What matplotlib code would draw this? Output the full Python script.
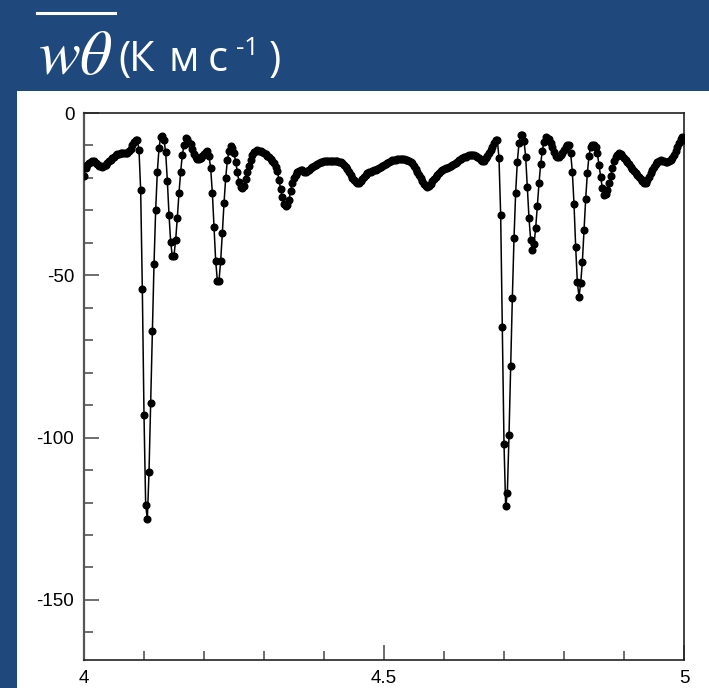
import numpy as np
import matplotlib
matplotlib.use("Agg")
import matplotlib.pyplot as plt
from matplotlib.patches import Rectangle
from matplotlib.lines import Line2D
from matplotlib.ticker import MultipleLocator

plt.rcParams['axes.unicode_minus'] = False

# flux samples, one every 4 minutes (1/360 of a unit) from 4 to 5
t_start, t_end = 4.0, 5.0
flux = [
    -19.3, -17.0, -16.0, -15.3, -15.0, -14.8, -14.9, -15.3, -15.8, -16.2,
    -16.4, -16.5, -16.3, -15.9, -15.4, -14.9, -14.4, -13.9, -13.4, -13.0,
    -12.7, -12.5, -12.4, -12.4, -12.4, -12.4, -12.2, -11.7, -11.0, -10.0,
    -8.9, -8.3, -8.3, -11.4, -23.8, -54.3, -93.0, -120.7, -125.1, -110.7,
    -89.3, -67.0, -46.6, -30.0, -18.1, -10.9, -7.3, -7.1, -8.3, -12.1,
    -20.8, -31.3, -39.7, -44.2, -43.9, -39.1, -32.2, -24.6, -18.1, -12.9,
    -9.9, -7.8, -8.0, -9.1, -9.6, -11.0, -12.5, -13.6, -14.2, -14.3,
    -14.0, -13.3, -12.5, -11.9, -11.8, -13.2, -17.0, -24.5, -35.0, -45.5,
    -51.6, -51.6, -45.6, -37.0, -27.8, -20.1, -14.6, -11.6, -10.3, -10.9,
    -12.4, -15.0, -18.2, -21.2, -22.8, -23.0, -22.4, -20.2, -18.3, -16.3,
    -14.5, -12.9, -12.0, -11.6, -11.5, -11.6, -11.8, -12.1, -12.4, -12.7,
    -13.2, -13.7, -14.2, -14.7, -15.4, -16.5, -18.0, -20.5, -23.5, -26.0,
    -28.0, -28.7, -28.3, -26.8, -24.0, -21.5, -20.0, -19.0, -18.2, -17.8,
    -17.6, -17.7, -18.1, -18.3, -18.0, -17.5, -17.0, -16.6, -16.3, -16.0,
    -15.7, -15.4, -15.2, -15.0, -14.9, -14.8, -14.8, -14.8, -14.8, -14.8,
    -14.8, -14.8, -14.9, -15.0, -15.1, -15.4, -15.9, -16.5, -17.3, -18.2,
    -19.1, -19.9, -20.6, -21.2, -21.6, -21.6, -21.0, -20.2, -19.6, -19.0,
    -18.6, -18.3, -18.1, -17.9, -17.7, -17.5, -17.2, -16.9, -16.5, -16.2,
    -15.9, -15.6, -15.3, -15.0, -14.8, -14.6, -14.5, -14.4, -14.3, -14.3,
    -14.3, -14.3, -14.3, -14.4, -14.5, -14.7, -15.1, -15.5, -16.2, -17.1,
    -18.1, -19.2, -20.1, -21.1, -21.9, -22.4, -22.7, -22.5, -21.9, -21.1,
    -20.3, -19.6, -19.0, -18.5, -18.0, -17.6, -17.3, -17.0, -16.8, -16.5,
    -16.2, -15.9, -15.6, -15.3, -15.0, -14.6, -14.3, -14.0, -13.7, -13.4,
    -13.2, -13.0, -12.9, -12.9, -13.0, -13.3, -13.6, -14.0, -14.4, -14.8,
    -14.8, -14.0, -13.2, -12.4, -11.3, -10.4, -9.2, -8.4, -8.3, -14.0,
    -31.4, -66.0, -101.9, -121.2, -117.1, -99.3, -77.8, -57.1, -38.6, -24.5,
    -15.0, -9.3, -6.8, -6.8, -8.5, -13.5, -22.7, -32.4, -39.1, -42.2,
    -40.4, -35.5, -28.6, -21.7, -15.7, -11.6, -8.8, -7.5, -7.6, -8.1,
    -9.1, -10.6, -12.0, -13.2, -13.6, -13.5, -13.0, -12.4, -11.4, -10.4,
    -9.9, -9.9, -12.4, -18.1, -28.0, -41.2, -52.0, -56.6, -52.5, -46.0,
    -36.0, -26.6, -18.6, -13.2, -10.4, -9.9, -10.0, -10.6, -12.4, -16.0,
    -19.8, -23.2, -25.3, -24.9, -23.7, -21.7, -19.4, -17.0, -14.8, -13.6,
    -12.9, -12.4, -12.6, -13.2, -13.9, -14.5, -15.2, -15.8, -16.5, -17.2,
    -17.9, -18.6, -19.2, -19.8, -20.4, -21.0, -21.6, -21.5, -20.5, -19.6,
    -18.6, -17.6, -16.6, -15.8, -15.2, -14.7, -14.6, -14.7, -14.9, -15.0,
    -15.0, -14.8, -14.5, -13.8, -12.8, -11.7, -10.5, -9.3, -8.0, -7.3,
    -8.2,
]
t = np.linspace(t_start, t_end, len(flux))

x_ticks = [4, 4.5, 5]
x_labels = ['4', '4.5', '5']
y_ticks = [0, -50, -100, -150]
y_labels = ['0', '-50', '-100', '-150']

W, H = 709, 688
fig = plt.figure(figsize=(W / 100, H / 100), dpi=100)
fig.patch.set_facecolor('#1F497D')
fig.add_artist(Rectangle((17 / W, 0), 1 - 17 / W, 597 / H,
                         transform=fig.transFigure, facecolor='white',
                         edgecolor='none', zorder=0))

ax = fig.add_axes([84 / W, 28 / H, 600 / W, 547 / H])
ax.plot(t, flux, color='black', lw=1.1, marker='o', ms=4.8,
        mec='black', mfc='black', zorder=3)

ax.set_xlim(4, 5)
ax.set_ylim(-168.5, 0)
ax.set_xticks(x_ticks)
ax.set_xticklabels(x_labels)
ax.set_yticks(y_ticks)
ax.set_yticklabels(y_labels)
ax.xaxis.set_minor_locator(MultipleLocator(0.1))
ax.yaxis.set_minor_locator(MultipleLocator(10))
ax.tick_params(which='both', direction='in', colors='#555555',
               labelcolor='black', labelsize=13.5, width=1.2)
ax.tick_params(which='major', length=10.5)
ax.tick_params(which='minor', length=6.3)
ax.tick_params(axis='y', pad=7)
ax.tick_params(axis='x', pad=7)
for lab in ax.get_xticklabels() + ax.get_yticklabels():
    lab.set_fontfamily('Liberation Sans')
for side in ['top', 'right', 'bottom']:
    ax.spines[side].set_color('#222222')
    ax.spines[side].set_linewidth(1.2)
ax.spines['left'].set_color('#555555')
ax.spines['left'].set_linewidth(1.6)

renderer = fig.canvas.get_renderer()


def heading_piece(s, x0, base, size, x1=None, **kw):
    # put a piece of the heading with its left edge at x0 pixels;
    # when x1 is given the size is scaled so it ends there
    txt = fig.text(x0 / W, base / H, s, fontsize=size, color='white',
                   va='baseline', **kw)
    if x1 is not None:
        ext = txt.get_window_extent(renderer)
        txt.set_fontsize(size * (x1 - x0) / ext.width)
    ext = txt.get_window_extent(renderer)
    txt.set_x((2 * x0 - ext.x0) / W)
    return txt


# heading: covariance symbol w'theta' with its mean bar, then the units
heading_piece(r'$w\theta$', 38, 614, 44, x1=113, math_fontfamily='stix')
fig.add_artist(Line2D([37 / W, 115 / W], [675 / H, 675 / H],
                      transform=fig.transFigure, color='white', lw=2.2))
unit_font = dict(family='Open Sans')
heading_piece('(', 118, 617, 30, **unit_font)
heading_piece('К', 129, 617, 30, **unit_font)
heading_piece('м', 168, 617, 30, **unit_font)
heading_piece('с', 208, 617, 30, **unit_font)
heading_piece('-', 236, 633, 19, **unit_font)
heading_piece('1', 244, 633, 19, **unit_font)
heading_piece(')', 269, 617, 30, **unit_font)

fig.savefig('out.png', dpi=100, facecolor=fig.get_facecolor())
